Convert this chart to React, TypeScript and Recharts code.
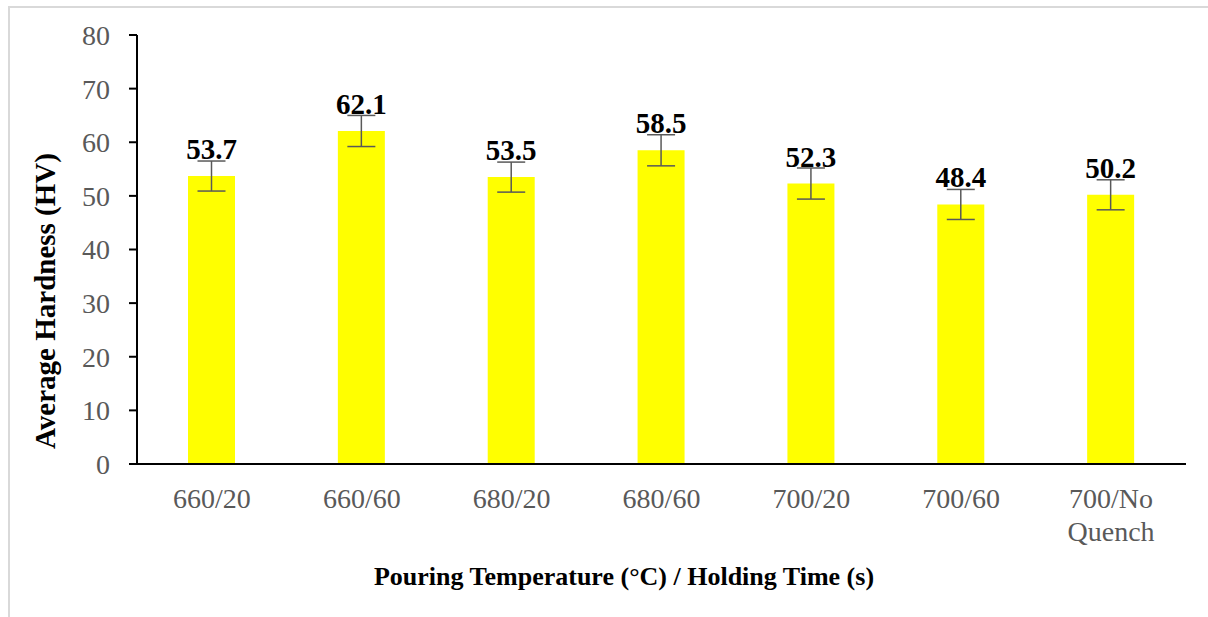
import React from "react";
import {
  BarChart,
  Bar,
  XAxis,
  YAxis,
  ErrorBar,
  LabelList,
  Text
} from "recharts";

const categories = ["660/20", "660/60", "680/20", "680/60", "700/20", "700/60", "700/No Quench"];
const hardness = [53.7, 62.1, 53.5, 58.5, 52.3, 48.4, 50.2];
const errors = [2.8, 2.9, 2.8, 2.9, 2.9, 2.8, 2.8];
const yTicks = [0, 10, 20, 30, 40, 50, 60, 70, 80];

const data = categories.map((c, i) => ({ name: c, value: hardness[i], err: errors[i] }));

const serif = "'Liberation Serif', 'Times New Roman', serif";

function XTick(props: any) {
  const { x, y, payload } = props;
  return (
    <Text
      x={x}
      y={y + 24}
      width={90}
      textAnchor="middle"
      verticalAnchor="start"
      lineHeight={33}
      fill="#595959"
      fontSize={28}
      fontFamily={serif}
    >
      {payload.value}
    </Text>
  );
}

export default function App() {
  return (
    <div style={{ position: "absolute", left: 0, top: 0, width: 1208, height: 617, background: "#fff" }}>
      <div
        style={{
          position: "absolute",
          left: 8,
          top: 6,
          width: 1200,
          height: 611,
          borderTop: "2px solid #d9d9d9",
          borderLeft: "2px solid #d9d9d9",
          boxSizing: "border-box"
        }}
      />

      <div style={{ position: "absolute", left: 0, top: 0 }}>
        <BarChart
          width={1208}
          height={617}
          data={data}
          margin={{ top: 35, right: 22, bottom: 93, left: 77 }}
        >
          <XAxis
            dataKey="name"
            height={60}
            tickLine={false}
            tickSize={0}
            tickMargin={0}
            axisLine={{ stroke: "#000", strokeWidth: 2 }}
            tick={<XTick />}
            interval={0}
          />
          <XAxis
            xAxisId="top"
            dataKey="name"
            orientation="top"
            height={0}
            tick={false}
            tickLine={false}
            axisLine={{ stroke: "#000", strokeWidth: 2 }}
          />
          <YAxis
            domain={[0, 80]}
            ticks={yTicks}
            width={60}
            tickSize={8}
            tickMargin={19}
            interval={0}
            axisLine={{ stroke: "#000", strokeWidth: 2 }}
            tickLine={{ stroke: "#000", strokeWidth: 2 }}
            tick={{ fill: "#595959", fontSize: 28, fontFamily: serif }}
          />
          <YAxis
            yAxisId="right"
            orientation="right"
            domain={[0, 80]}
            width={0}
            tick={false}
            tickLine={false}
            axisLine={{ stroke: "#000", strokeWidth: 2 }}
          />

          <Bar dataKey="value" fill="#ffff00" barSize={47} isAnimationActive={false}>
            <ErrorBar
              dataKey="err"
              width={14}
              stroke="#595959"
              strokeWidth={1.5}
              direction="y"
              isAnimationActive={false}
            />
            <LabelList
              dataKey="value"
              position="top"
              offset={17}
              fill="#000"
              fontSize={29}
              fontWeight="bold"
              fontFamily={serif}
            />
          </Bar>
        </BarChart>
      </div>

      <div
        style={{
          position: "absolute",
          left: 45,
          top: 301,
          transform: "translate(-50%, -50%) rotate(-90deg)",
          whiteSpace: "nowrap",
          fontFamily: serif,
          fontWeight: "bold",
          fontSize: 29,
          color: "#000"
        }}
      >
        Average Hardness (HV)
      </div>
      <div
        style={{
          position: "absolute",
          left: 624,
          top: 577,
          transform: "translate(-50%, -50%)",
          whiteSpace: "nowrap",
          fontFamily: serif,
          fontWeight: "bold",
          fontSize: 26,
          color: "#000"
        }}
      >
        Pouring Temperature (°C) / Holding Time (s)
      </div>
    </div>
  );
}
